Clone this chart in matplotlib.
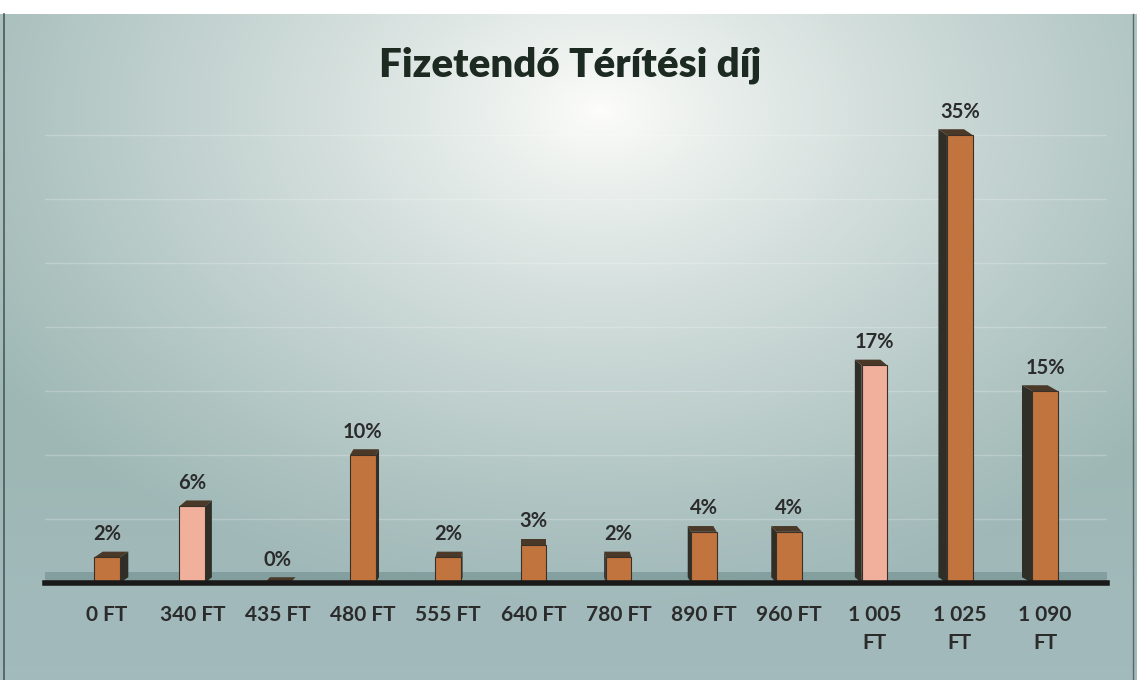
import numpy as np
import matplotlib
matplotlib.use("Agg")
import matplotlib.pyplot as plt
from matplotlib.patches import Polygon

categories = ["0 FT", "340 FT", "435 FT", "480 FT", "555 FT", "640 FT",
              "780 FT", "890 FT", "960 FT", "1 005\nFT", "1 025\nFT", "1 090\nFT"]
values = [2, 6, 0, 10, 2, 3, 2, 4, 4, 17, 35, 15]
labels = ["2%", "6%", "0%", "10%", "2%", "3%", "2%", "4%", "4%", "17%", "35%", "15%"]
light_bars = [1, 9]

W, H = 1137, 680
fig = plt.figure(figsize=(W / 100, H / 100), dpi=100)
FONT = ["Lato", "DejaVu Sans"]

# background gradient
bg = fig.add_axes([0, 0, 1, 1])
yy, xx = np.mgrid[0:H, 0:W]
d = np.sqrt(((xx - 600) / 720.0) ** 2 + ((yy - 110) / 500.0) ** 2)
t = np.clip(d, 0, 1.0)
t = t ** 0.85
white = np.array([0.995, 0.995, 0.985])
edge = np.array([0.62, 0.72, 0.71])
img = white[None, None, :] * (1 - t[..., None]) + edge[None, None, :] * t[..., None]
bmix = np.clip((yy - 450) / 230.0, 0, 1)[..., None] * 0.5
blue = np.array([0.66, 0.74, 0.77])
img = img * (1 - bmix) + blue[None, None, :] * bmix
img[:14, :, :] = 1.0
bg.imshow(img, extent=[0, W, H, 0], aspect="auto")
bg.set_xlim(0, W); bg.set_ylim(H, 0)
bg.axis("off")
bg.plot([4, 4], [14, H], color="#4a5a5a", lw=1.2)
bg.plot([1133, 1133], [14, H], color="#5a6a6a", lw=1.0)

left_px, right_px, base_px = 45, 1107, 583
ppu = 12.8
ymax = 37
ax = fig.add_axes([left_px / W, 1 - base_px / H, (right_px - left_px) / W, ymax * ppu / H])
ax.set_facecolor("none")
ax.set_xlim(-0.727, 11.727)
ax.set_ylim(0, ymax)
for s in ax.spines.values():
    s.set_visible(False)
ax.set_yticks([])
ax.set_xticks([])

for g in range(5, 36, 5):
    ax.axhline(g, color="white", lw=1.0, alpha=0.22, zorder=0)

ax.axhspan(0, 0.85, color="#5f807e", alpha=0.45, zorder=1, lw=0)

x = np.arange(len(categories))
w = 0.30
face = "#c2743e"
face_light = "#f0b09c"
side_col = "#2f2f28"
for i, (xi, v) in enumerate(zip(x, values)):
    off = -(xi - 5.0) / 5.5 * 0.11
    dy = 0.45
    if off >= 0:
        side = [(xi + w / 2, 0), (xi + w / 2 + off, dy), (xi + w / 2 + off, v + dy), (xi + w / 2, v)]
    else:
        side = [(xi - w / 2, 0), (xi - w / 2 + off, dy), (xi - w / 2 + off, v + dy), (xi - w / 2, v)]
    ax.add_patch(Polygon(side, closed=True, color=side_col, zorder=2, lw=0))
    top = [(xi - w / 2, v), (xi + w / 2, v), (xi + w / 2 + off, v + dy), (xi - w / 2 + off, v + dy)]
    ax.add_patch(Polygon(top, closed=True, color="#4a3828", zorder=3, lw=0))
bars = ax.bar(x, values, width=w, color=[face_light if i in light_bars else face for i in x],
              edgecolor="#3a3028", linewidth=0.8, zorder=3)

for xi, v, lab in zip(x, values, labels):
    ax.text(xi, v + 1.05, lab, ha="center", va="bottom", fontsize=14.5, fontweight="bold",
            family=FONT, color="#2b2b2b", zorder=5)

ax.plot([-0.727, 11.727], [0, 0], color="#1a1a1a", lw=4, zorder=4, clip_on=False)

for xi, c in zip(x, categories):
    ax.text(xi, -1.7, c, ha="center", va="top", fontsize=15, fontweight="bold", family=FONT,
            color="#2b2b2b", linespacing=1.5)

fig.text(570 / W, 1 - 65 / H, "Fizetendő Térítési díj", ha="center", va="center",
         fontsize=29, fontweight="heavy", family=FONT, color="#1d2a21")

fig.savefig("out.png", dpi=100)
